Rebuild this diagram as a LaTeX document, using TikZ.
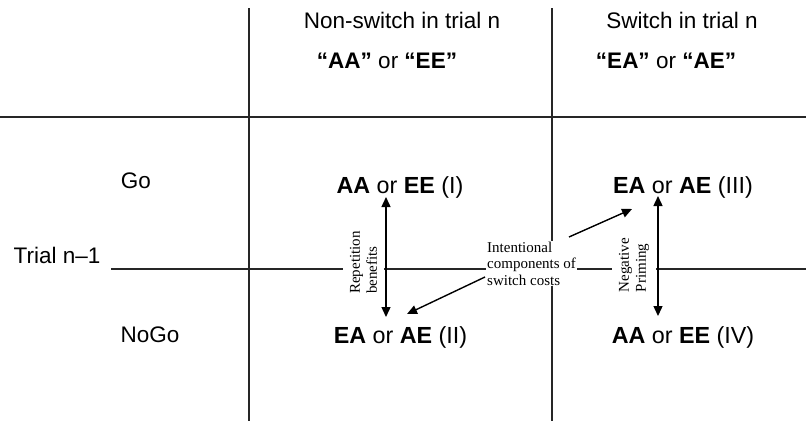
\documentclass[tikz,border=0pt]{standalone}
\usepackage{fontspec}
\setmainfont{Liberation Sans}
\newfontfamily\tms{Liberation Serif}
\usetikzlibrary{arrows.meta}
\begin{document}
\begin{tikzpicture}[x=1pt,y=-1pt,
  rule/.style={line width=1.3pt, black!85},
  hd/.style={anchor=base, inner sep=0pt, font=\fontsize{22.5}{27}\selectfont},
  cell/.style={anchor=base, inner sep=0pt, font=\fontsize{23.3}{28}\selectfont},
  note/.style={font=\tms\fontsize{15}{16.5}\selectfont, align=left, fill=white, inner sep=1pt},
  rnote/.style={font=\tms\fontsize{15}{17}\selectfont, align=left, fill=white, rotate=90, inner xsep=2pt, inner ysep=6.5pt},
  arr/.style={line width=1.4pt, -{Triangle[length=10pt,width=9pt]}},
  darr/.style={line width=1.4pt, {Triangle[length=10pt,width=9pt]}-{Triangle[length=10pt,width=9pt]}}]
\useasboundingbox (0,0) rectangle (806,421);
% grid end points
\coordinate (v1t) at (249,8);   \coordinate (v1b) at (249,421);
\coordinate (v2t) at (552,8);   \coordinate (v2b) at (552,421);
\coordinate (h1l) at (0,117);   \coordinate (h1r) at (806,117);
\coordinate (h2l) at (111,269); \coordinate (h2r) at (806,269);
\draw[rule] (v1t) -- (v1b);
\draw[rule] (v2t) -- (v2b);
\draw[rule] (h1l) -- (h1r);
\draw[rule] (h2l) -- (h2r);
% headers
\node[hd] (h1) at (402,28) {Non-switch in trial n};
\node[hd] (h2) at (387,68) {\textbf{“AA”} or \textbf{“EE”}};
\node[hd] (h3) at (682,28) {Switch in trial n};
\node[hd] (h4) at (666,68) {\textbf{“EA”} or \textbf{“AE”}};
% row labels
\node[hd] (go) at (136,188) {Go};
\node[hd] (trial) at (57,263) {Trial n–1};
\node[hd] (nogo) at (150,342) {NoGo};
% cells
\node[cell] (c1) at (400,193) {\textbf{AA} or \textbf{EE} (I)};
\node[cell] (c3) at (683,193) {\textbf{EA} or \textbf{AE} (III)};
\node[cell] (c2) at (400.5,343) {\textbf{EA} or \textbf{AE} (II)};
\node[cell] (c4) at (683,343) {\textbf{AA} or \textbf{EE} (IV)};
% notes
\node[rnote] (rep) at (363.5,262.5) {Repetition\\benefits};
\node[rnote] (neg) at (634,265) {Negative\\Priming};
\node[note, anchor=west] (int) at (486,263.4) {Intentional\\components of\\switch costs};
% arrow ends
\coordinate (r1) at (386,197); \coordinate (r2) at (386,317);
\coordinate (n1) at (658,196); \coordinate (n2) at (658,316);
\coordinate (iu) at (569,237); \coordinate (iut) at (632,209);
\coordinate (id) at (485,277); \coordinate (idt) at (407,314);
\draw[darr] (r1) -- (r2);
\draw[darr] (n1) -- (n2);
\draw[arr] (iu) -- (iut);
\draw[arr] (id) -- (idt);
\end{tikzpicture}
\end{document}
